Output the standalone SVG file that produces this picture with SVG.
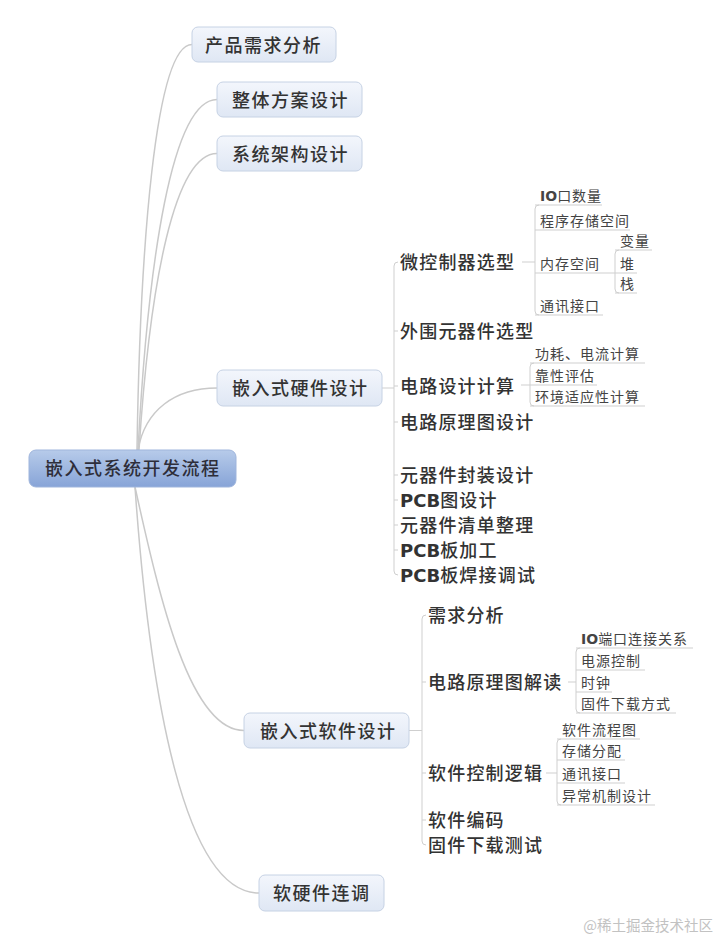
<svg xmlns="http://www.w3.org/2000/svg" width="720" height="938" viewBox="0 0 720 938">
<defs>
<linearGradient id="gRoot" x1="0" y1="0" x2="0" y2="1">
<stop offset="0" stop-color="#b7cbea"/>
<stop offset="1" stop-color="#87a4d7"/>
</linearGradient>
<linearGradient id="gBox" x1="0" y1="0" x2="0" y2="1">
<stop offset="0" stop-color="#f3f6fc"/>
<stop offset="1" stop-color="#dfe7f4"/>
</linearGradient>
<style>
text{font-family:"Noto Sans CJK SC","Noto Sans",sans-serif;}
.root{font-size:18px;fill:#2e2e3a;letter-spacing:1.5px;font-weight:500;}
.l1{font-size:18px;fill:#333;letter-spacing:1.5px;font-weight:500;}
.l2{font-size:18px;fill:#333;letter-spacing:1.2px;font-weight:500;}
.l3{font-size:14px;fill:#444;letter-spacing:1px;}
.lat{font-family:"DejaVu Sans",sans-serif;font-weight:bold;letter-spacing:0;}
.wm{font-size:14.5px;fill:#c2c2c2;}
.box{fill:url(#gBox);stroke:#c6d2e4;stroke-width:1;}
.rootbox{fill:url(#gRoot);stroke:#9fb5dc;stroke-width:1;}
.c{fill:none;stroke:#c9c9c9;stroke-width:1.5;}
.t{fill:none;stroke:#cfcfcf;stroke-width:1;}
</style>
</defs>
<rect width="720" height="938" fill="#ffffff"/>

<g id="connectors">
<path class="c" d="M137 450 C140 250 155 44.5 192 44.5"/>
<path class="c" d="M138 450 C148 260 172 99.5 217 99.5"/>
<path class="c" d="M139 450 C150 280 175 153.5 217 153.5"/>
<path class="c" d="M138 450 C145 410 175 388 217 388"/>
<path class="c" d="M135 487 C160 600 190 730.5 244 730.5"/>
<path class="c" d="M135 487 C150 700 185 893 259 893"/>
<!-- hardware -->
<path class="t" d="M382 388 H394"/>
<path class="t" d="M398 262 Q394 262 394 266 V571 Q394 575 398 575"/>
<path class="t" d="M394 331 H398 M394 386 H398 M394 422 H398 M394 475 H398 M394 500 H398 M394 525 H398 M394 550 H398"/>
<!-- MCU -->
<path class="t" d="M522 262 H535"/>
<path class="t" d="M539 205 Q535 205 535 209 V311 Q535 315 539 315"/>
<path class="t" d="M535 205 H602 M535 230 H630 M535 273 H637 M535 315 H603"/>
<path class="t" d="M619 250 Q615 250 615 254 V289 Q615 293 619 293"/>
<path class="t" d="M615 250 H652 M615 293 H637"/>
<!-- circuit calc -->
<path class="t" d="M521 385 H530"/>
<path class="t" d="M534 363 Q530 363 530 367 V402 Q530 406 534 406"/>
<path class="t" d="M530 363 H645 M530 385 H597 M530 406 H645"/>
<!-- software -->
<path class="t" d="M409 730.5 H422"/>
<path class="t" d="M426 615 Q422 615 422 619 V841 Q422 845 426 845"/>
<path class="t" d="M422 682 H426 M422 773 H426 M422 820 H426"/>
<path class="t" d="M568 682 H576"/>
<path class="t" d="M580 648 Q576 648 576 652 V709 Q576 713 580 713"/>
<path class="t" d="M576 648 H693 M576 670 H645 M576 692 H612 M576 713 H676"/>
<path class="t" d="M546 773 H557"/>
<path class="t" d="M561 739 Q557 739 557 743 V801 Q557 805 561 805"/>
<path class="t" d="M557 739 H640 M557 760 H625 M557 783 H625 M557 805 H655"/>
</g>

<g id="root">
<rect class="rootbox" x="29" y="450" width="207" height="37" rx="7"/>
<text class="root" x="45" y="475">嵌入式系统开发流程</text>
</g>

<g id="n-product">
<rect class="box" x="192" y="27" width="144" height="35" rx="6"/>
<text class="l1" x="205" y="51.5">产品需求分析</text>
</g>
<g id="n-overall">
<rect class="box" x="217" y="82" width="145" height="35" rx="6"/>
<text class="l1" x="232" y="106.5">整体方案设计</text>
</g>
<g id="n-arch">
<rect class="box" x="217" y="136" width="145" height="35" rx="6"/>
<text class="l1" x="232" y="160.5">系统架构设计</text>
</g>
<g id="n-hw">
<rect class="box" x="217" y="370" width="165" height="36" rx="6"/>
<text class="l1" x="232" y="395">嵌入式硬件设计</text>
</g>
<g id="n-sw">
<rect class="box" x="244" y="713" width="165" height="35" rx="6"/>
<text class="l1" x="260" y="737.5">嵌入式软件设计</text>
</g>
<g id="n-cosim">
<rect class="box" x="259" y="875" width="125" height="36" rx="6"/>
<text class="l1" x="273" y="900">软硬件连调</text>
</g>

<g id="hw-children">
<g id="hw-mcu"><text class="l2" x="400" y="269">微控制器选型</text></g>
<g id="hw-periph"><text class="l2" x="400" y="338">外围元器件选型</text></g>
<g id="hw-calc"><text class="l2" x="400" y="393">电路设计计算</text></g>
<g id="hw-sch"><text class="l2" x="400" y="429">电路原理图设计</text></g>
<g id="hw-pkg"><text class="l2" x="400" y="482">元器件封装设计</text></g>
<g id="hw-pcb"><text class="l2" x="400" y="507"><tspan class="lat">PCB</tspan>图设计</text></g>
<g id="hw-bom"><text class="l2" x="400" y="532">元器件清单整理</text></g>
<g id="hw-fab"><text class="l2" x="400" y="557"><tspan class="lat">PCB</tspan>板加工</text></g>
<g id="hw-solder"><text class="l2" x="400" y="582"><tspan class="lat">PCB</tspan>板焊接调试</text></g>
</g>

<g id="mcu-children">
<g id="mcu-io"><text class="l3" x="540" y="201"><tspan class="lat">IO</tspan>口数量</text></g>
<g id="mcu-flash"><text class="l3" x="540" y="225.5">程序存储空间</text></g>
<g id="mcu-ram"><text class="l3" x="540" y="268.5">内存空间</text></g>
<g id="mcu-comm"><text class="l3" x="540" y="310.5">通讯接口</text></g>
<g id="ram-var"><text class="l3" x="620" y="245.5">变量</text></g>
<g id="ram-heap"><text class="l3" x="620" y="268.5">堆</text></g>
<g id="ram-stack"><text class="l3" x="620" y="288.5">栈</text></g>
</g>

<g id="calc-children">
<g id="calc-power"><text class="l3" x="535" y="358.5">功耗、电流计算</text></g>
<g id="calc-rel"><text class="l3" x="535" y="380.5">靠性评估</text></g>
<g id="calc-env"><text class="l3" x="535" y="401.5">环境适应性计算</text></g>
</g>

<g id="sw-children">
<g id="sw-req"><text class="l2" x="428" y="622">需求分析</text></g>
<g id="sw-sch"><text class="l2" x="428" y="689">电路原理图解读</text></g>
<g id="sw-logic"><text class="l2" x="428" y="780">软件控制逻辑</text></g>
<g id="sw-code"><text class="l2" x="428" y="827">软件编码</text></g>
<g id="sw-flash"><text class="l2" x="428" y="852">固件下载测试</text></g>
</g>

<g id="sch-children">
<g id="sch-io"><text class="l3" x="581" y="643.5"><tspan class="lat">IO</tspan>端口连接关系</text></g>
<g id="sch-pwr"><text class="l3" x="581" y="665.5">电源控制</text></g>
<g id="sch-clk"><text class="l3" x="581" y="687.5">时钟</text></g>
<g id="sch-dl"><text class="l3" x="581" y="708.5">固件下载方式</text></g>
</g>

<g id="logic-children">
<g id="logic-flow"><text class="l3" x="562" y="734.5">软件流程图</text></g>
<g id="logic-mem"><text class="l3" x="562" y="755.5">存储分配</text></g>
<g id="logic-comm"><text class="l3" x="562" y="778.5">通讯接口</text></g>
<g id="logic-exc"><text class="l3" x="562" y="800.5">异常机制设计</text></g>
</g>

<text class="wm" x="713" y="931" text-anchor="end">@稀土掘金技术社区</text>
</svg>
